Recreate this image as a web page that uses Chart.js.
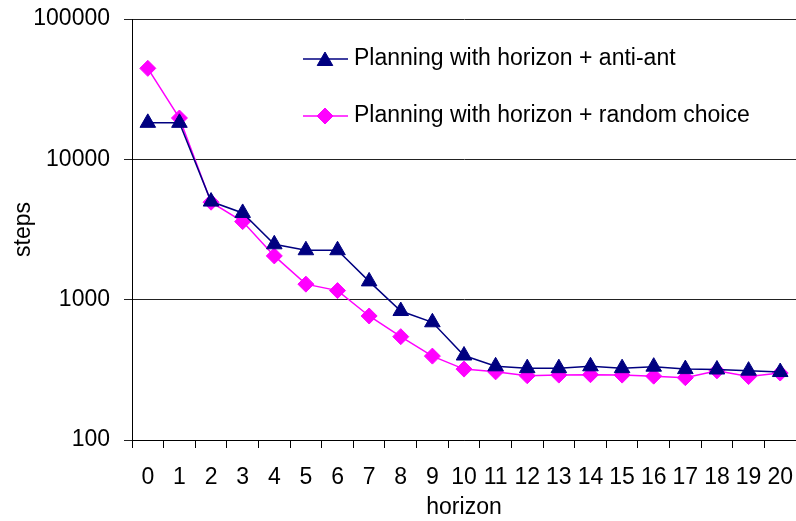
<!DOCTYPE html>
<html>
<head>
<meta charset="utf-8">
<script src="https://cdn.jsdelivr.net/npm/chart.js@4/dist/chart.umd.min.js"></script>
<style>
  html, body { margin: 0; padding: 0; background: #fff; overflow: hidden; }
  #wrap { width: 796px; height: 521px; overflow: hidden; }
  #c { display: block; }
</style>
</head>
<body>
<div id="wrap"><canvas id="c" width="806" height="521"></canvas></div>
<script>
const horizons = ['0','1','2','3','4','5','6','7','8','9','10','11','12','13','14','15','16','17','18','19','20'];
const antiAnt = [18200, 18200, 5000, 4150, 2480, 2250, 2250, 1350, 830, 690, 400, 335, 325, 325, 335, 325, 333, 320, 318, 312, 305];
const randomChoice = [44500, 19700, 4950, 3600, 2050, 1290, 1160, 765, 545, 396, 320, 306, 287, 290, 292, 290, 285, 278, 311, 283, 300];
const yTickValues = [100, 1000, 10000, 100000];
const seriesNames = ['Planning with horizon + anti-ant', 'Planning with horizon + random choice'];

const FONT = '"Liberation Sans", Arial, Helvetica, sans-serif';
Chart.defaults.color = '#000';
Chart.defaults.font.family = FONT;

function drawMarker(ctx, style, x, y, r, color) {
  ctx.save();
  ctx.fillStyle = color;
  ctx.strokeStyle = color;
  ctx.lineWidth = 1;
  ctx.beginPath();
  if (style === 'triangle') {
    let rad = 0;
    ctx.moveTo(x + Math.sin(rad) * r, y - Math.cos(rad) * r);
    rad += 2 * Math.PI / 3;
    ctx.lineTo(x + Math.sin(rad) * r, y - Math.cos(rad) * r);
    rad += 2 * Math.PI / 3;
    ctx.lineTo(x + Math.sin(rad) * r, y - Math.cos(rad) * r);
  } else {
    ctx.moveTo(x - r, y);
    ctx.lineTo(x, y - r);
    ctx.lineTo(x + r, y);
    ctx.lineTo(x, y + r);
  }
  ctx.closePath();
  ctx.fill();
  ctx.stroke();
  ctx.restore();
}

const legendPlugin = {
  id: 'insideLegend',
  afterDraw(chart) {
    const ctx = chart.ctx;
    const items = [
      { y: 59, color: '#000080', style: 'triangle', r: 9, my: 61 },
      { y: 116, color: '#FF00FF', style: 'rectRot', r: 8, my: 116 }
    ];
    items.forEach((it, i) => {
      ctx.save();
      ctx.strokeStyle = it.color;
      ctx.lineWidth = 1.5;
      ctx.beginPath();
      ctx.moveTo(303, it.y);
      ctx.lineTo(348, it.y);
      ctx.stroke();
      ctx.restore();
      drawMarker(ctx, it.style, 325, it.my, it.r, it.color);
      ctx.save();
      ctx.fillStyle = '#000';
      ctx.font = '23px ' + FONT;
      ctx.textBaseline = 'middle';
      ctx.textAlign = 'left';
      ctx.fillText(seriesNames[i], 354, it.y);
      ctx.restore();
    });
  }
};

new Chart(document.getElementById('c'), {
  type: 'line',
  data: {
    labels: horizons,
    datasets: [
      {
        label: seriesNames[0],
        data: antiAnt,
        borderColor: '#000080',
        backgroundColor: '#000080',
        borderWidth: 1.5,
        pointStyle: 'triangle',
        pointRadius: 9,
        pointBorderWidth: 1,
        pointBackgroundColor: '#000080',
        pointBorderColor: '#000080',
        tension: 0,
        fill: false
      },
      {
        label: seriesNames[1],
        data: randomChoice,
        borderColor: '#FF00FF',
        backgroundColor: '#FF00FF',
        borderWidth: 1.5,
        pointStyle: 'rectRot',
        pointRadius: 8,
        pointBorderWidth: 1,
        pointBackgroundColor: '#FF00FF',
        pointBorderColor: '#FF00FF',
        tension: 0,
        fill: false
      }
    ]
  },
  options: {
    responsive: false,
    animation: false,
    devicePixelRatio: 1,
    layout: { padding: { left: 0, right: 1, top: 19, bottom: 0 } },
    plugins: {
      legend: { display: false },
      tooltip: { enabled: false }
    },
    scales: {
      x: {
        type: 'category',
        offset: true,
        grid: {
          offset: true,
          drawOnChartArea: false,
          drawTicks: true,
          tickLength: 8,
          color: '#000',
          lineWidth: 1
        },
        border: { display: true, color: '#000', width: 1 },
        ticks: {
          font: { size: 23, family: FONT },
          color: '#000',
          padding: 16,
          maxRotation: 0,
          autoSkip: false
        },
        title: {
          display: true,
          text: 'horizon',
          font: { size: 23, family: FONT },
          color: '#000',
          padding: { top: 0, bottom: 0 }
        },
        afterFit(scale) {
          scale.height = 81;
          scale.paddingLeft = 0;
          scale.paddingRight = 0;
        }
      },
      y: {
        type: 'logarithmic',
        min: 100,
        max: 100000,
        afterBuildTicks(scale) {
          scale.ticks = yTickValues.map(v => ({ value: v }));
        },
        grid: {
          drawOnChartArea: true,
          drawTicks: true,
          tickLength: 8,
          color: '#222',
          lineWidth: 1
        },
        border: { display: true, color: '#000', width: 1 },
        ticks: {
          font: { size: 23, family: FONT },
          color: '#000',
          padding: 14,
          callback: (v) => String(v)
        },
        title: {
          display: true,
          text: 'steps',
          font: { size: 23, family: FONT },
          color: '#000',
          padding: { top: 10, bottom: 0 }
        },
        afterFit(scale) {
          scale.width = 132;
          scale.paddingTop = 0;
          scale.paddingBottom = 0;
        }
      }
    }
  },
  plugins: [legendPlugin]
});
</script>
</body>
</html>
